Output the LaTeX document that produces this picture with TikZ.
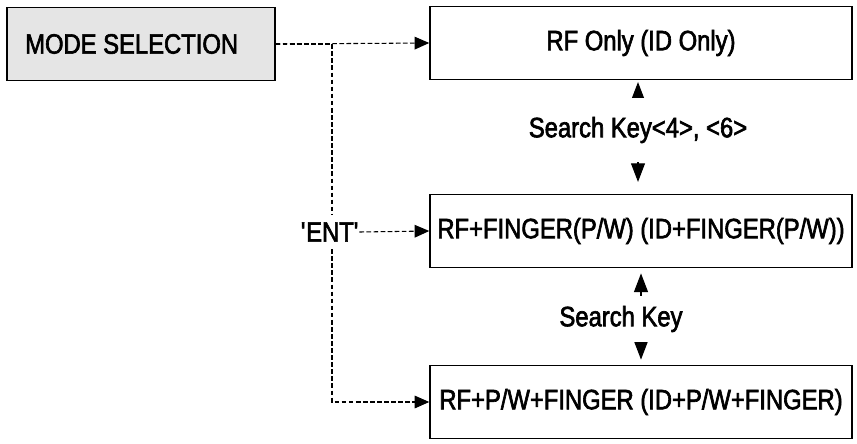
\documentclass[tikz,border=0pt]{standalone}
\usepackage{fontspec}
\setmainfont{Liberation Sans}[FakeStretch=0.85, BoldFont={Liberation Sans}, BoldFeatures={FakeBold=2.2}]
\usetikzlibrary{arrows.meta}

\tikzset{
  modebox/.style={draw, line width=1.1pt, fill=black!10, minimum width=201pt, minimum height=54.5pt, inner sep=0pt},
  statebox/.style={draw, line width=1.1pt, minimum width=316.5pt, minimum height=54.5pt, inner sep=0pt},
  keylabel/.style={fill=white, inner sep=0pt},
  dashline/.style={line width=0.8pt, dash pattern=on 3.5pt off 1.8pt, -{Triangle[length=11pt,width=9.5pt]}},
  keyarrow/.style={line width=0.8pt, {Triangle[length=14pt,width=10.5pt]}-{Triangle[length=14pt,width=10.5pt]}}
}

\begin{document}
\begin{tikzpicture}[x=0.75pt,y=0.75pt,yscale=-1]
\useasboundingbox (0,0) rectangle (857,443);
\fontsize{21}{25}\selectfont\bfseries

% boxes
\node[modebox] (mode) at (141,44) {\hspace*{-14pt}MODE SELECTION};
\node[statebox] (rfonly) at (641,43) {RF Only (ID Only)};
\node[statebox] (rffp) at (641,231) {RF+FINGER(P/W) (ID+FINGER(P/W))};
\node[statebox] (rfpf) at (641,402) {RF+P/W+FINGER (ID+P/W+FINGER)};

% dashed links from mode selection
\coordinate (split) at (332,44);
\draw[dashline] (mode.east) -- (rfonly.west);
\draw[dashline] (mode.east) -- (split) -- (split |- rfpf.west) -- (rfpf.west);
\node[keylabel, minimum height=26pt] (ent) at (330,232) {\textquotesingle ENT\textquotesingle};
\draw[dashline] (ent.east) -- (rffp.west);

% search keys
\draw[keyarrow, shorten <=1.5pt, shorten >=9pt] (rfonly.south -| 638,0) -- (rffp.north -| 638,0);
\node[keylabel, minimum height=48pt, minimum width=200pt] (key1) at (638,130) {Search Key<4>, <6>};
\draw[keyarrow, shorten <=4pt, shorten >=4pt] (rffp.south -| 641,0) -- (rfpf.north -| 641,0);
\node[keylabel, minimum height=35pt, minimum width=120pt] (key2) at (621,319) {Search Key};

\end{tikzpicture}
\end{document}
